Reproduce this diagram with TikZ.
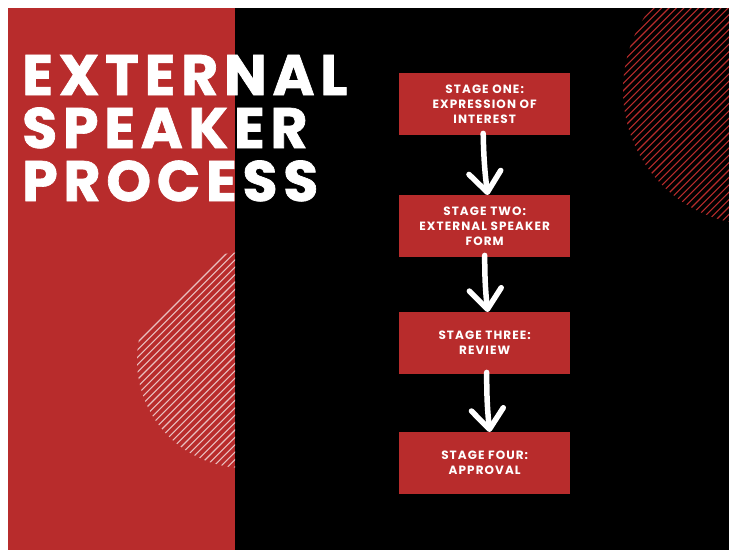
\documentclass[tikz,border=0pt]{standalone}
\usepackage{fontspec}
\setmainfont{Poppins}
\usetikzlibrary{arrows.meta}
\definecolor{brandred}{RGB}{184,44,44}
\begin{document}
\begin{tikzpicture}[x=1pt,y=-1pt,
  stagebox/.style={fill=brandred, minimum width=171pt, minimum height=62pt,
    inner sep=0pt, text=white, align=center, anchor=north west,
    font=\fontsize{12}{15}\selectfont\bfseries\addfontfeature{LetterSpace=9}},
  titleline/.style={text=white, inner sep=0pt, anchor=base west,
    font=\fontsize{57}{57}\selectfont\bfseries\addfontfeature{LetterSpace=10,FakeBold=1.2}},
  flowarrow/.style={draw=white, line width=5.5pt, line cap=round,
    -{Straight Barb[length=20pt, width=32pt, round]}},
  redhatch/.style={draw=brandred, line width=1.1pt},
  whitehatch/.style={draw=white, opacity=0.7, line width=1.1pt}]
\useasboundingbox (0,0) rectangle (729,550);
% page and the two background panels
\fill[white] (0,0) rectangle (729,550);
\fill[brandred] (8,8) rectangle (235,550);
\fill[black] (235,8) rectangle (729,550);
% hatched disc, top right
\begin{scope}
  \clip (235,8) rectangle (729,550);
  \clip (758,90) circle (135pt);
  \foreach \x in {380,387.4,...,1000} \draw[redhatch] (\x,260) -- ++(280,-280);
\end{scope}
% hatched disc, lower left
\begin{scope}
  \clip (8,8) rectangle (235,550);
  \clip (245,360) circle (108pt);
  \foreach \x in {0,7.4,...,500} \draw[whitehatch] (\x,480) -- ++(260,-260);
\end{scope}
% title
\node[titleline] (t1) at (22,95) {EXTERNAL};
\node[titleline] (t2) at (22,148) {SPEAKER};
\node[titleline] (t3) at (22,201) {PROCESS};
% stages
\node[stagebox] (s1) at (399,73) {STAGE ONE:\\EXPRESSION OF\\INTEREST};
\node[stagebox] (s2) at (399,195) {STAGE TWO:\\EXTERNAL SPEAKER\\FORM};
\node[stagebox] (s3) at (399,312) {STAGE THREE:\\REVIEW};
\node[stagebox] (s4) at (399,432) {STAGE FOUR:\\APPROVAL};
% connectors
\draw[flowarrow] ([xshift=-1.5pt,yshift=2pt]s1.south) to[bend right=3] ([xshift=3pt]s2.north);
\draw[flowarrow] ([xshift=0pt,yshift=2pt]s2.south) to[bend right=3] ([xshift=3pt]s3.north);
\draw[flowarrow] ([xshift=2pt,yshift=2pt]s3.south) to[bend right=3] ([xshift=5pt]s4.north);
\end{tikzpicture}
\end{document}
